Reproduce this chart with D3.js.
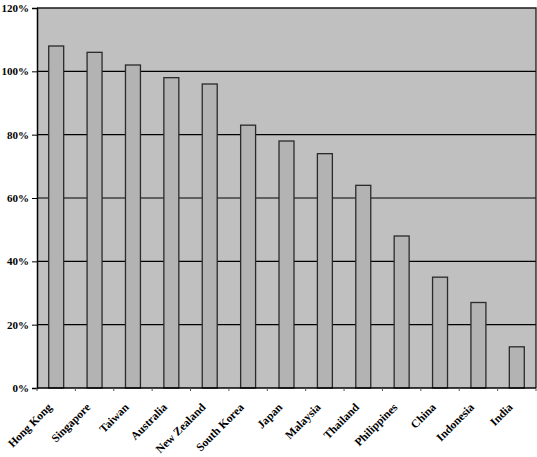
<!DOCTYPE html>
<html>
<head>
<meta charset="utf-8">
<script src="https://cdn.jsdelivr.net/npm/d3@7"></script>
<style>
  body { margin: 0; background: #fff; }
  text { font-family: "Liberation Serif", "Times New Roman", serif; font-weight: bold; font-size: 11px; fill: #000; }
  .xlabel { font-size: 11.5px; }
</style>
</head>
<body>
<svg id="canvas" width="537" height="457"></svg>
<script>
let countries = ['Hong Kong', 'Singapore', 'Taiwan', 'Australia', 'New Zealand', 'South Korea',
  'Japan', 'Malaysia', 'Thailand', 'Philippines', 'China', 'Indonesia', 'India']
let values = [108, 106, 102, 98, 96, 83, 78, 74, 64, 48, 35, 27, 13]
let yTicks = [0, 20, 40, 60, 80, 100, 120]

let canvas = d3.select('#canvas')
let plotLeft = 37, plotRight = 536, plotTop = 8, plotBottom = 388

let xScale = d3.scaleBand()
  .domain(countries)
  .range([plotLeft, plotRight])
  .paddingInner(0.61)
  .paddingOuter(0.305)

let yScale = d3.scaleLinear()
  .domain([0, 120])
  .range([plotBottom, plotTop])

// plot background
canvas.append('rect')
  .attr('x', plotLeft).attr('y', plotTop)
  .attr('width', plotRight - plotLeft).attr('height', plotBottom - plotTop)
  .attr('fill', '#c0c0c0')

// gridlines behind the bars
canvas.selectAll('.grid')
  .data(yTicks.filter(d => d > 0 && d < 120))
  .enter()
  .append('line')
  .attr('class', 'grid')
  .attr('x1', plotLeft).attr('x2', plotRight)
  .attr('y1', d => yScale(d)).attr('y2', d => yScale(d))
  .attr('stroke', '#000').attr('stroke-width', 1.2)

canvas.selectAll('.bar')
  .data(values)
  .enter()
  .append('rect')
  .attr('class', 'bar')
  .attr('x', (d, i) => xScale(countries[i]))
  .attr('y', d => yScale(d))
  .attr('width', xScale.bandwidth())
  .attr('height', d => plotBottom - yScale(d))
  .attr('fill', '#b3b3b3')
  .attr('stroke', '#2a2a2a')
  .attr('stroke-width', 1.3)

// frame: top and right
canvas.append('path')
  .attr('d', `M${plotLeft},${plotTop}H${plotRight}V${plotBottom}`)
  .attr('fill', 'none').attr('stroke', '#1a1a1a').attr('stroke-width', 1.3)

// y axis
let yAxis = d3.axisLeft(yScale)
  .tickValues(yTicks)
  .tickFormat(d => d + '%')
  .tickSize(5)
  .tickPadding(3)
canvas.append('g')
  .attr('transform', `translate(${plotLeft},0)`)
  .call(yAxis)
  .call(g => g.select('.domain').attr('stroke', '#000').attr('stroke-width', 1.5))
  .call(g => g.selectAll('line').attr('stroke', '#000'))
  .call(g => g.selectAll('text').attr('font-family', null).attr('font-size', null))

// x axis: ticks on the category boundaries
let bounds = d3.range(countries.length + 1).map(i => plotLeft + i * xScale.step())
canvas.append('line')
  .attr('x1', plotLeft).attr('x2', plotRight)
  .attr('y1', plotBottom).attr('y2', plotBottom)
  .attr('stroke', '#000').attr('stroke-width', 1.5)
canvas.selectAll('.xtick')
  .data(bounds)
  .enter()
  .append('line')
  .attr('class', 'xtick')
  .attr('x1', d => d).attr('x2', d => d)
  .attr('y1', plotBottom).attr('y2', plotBottom + 3)
  .attr('stroke', '#555')

canvas.selectAll('.xlabel')
  .data(countries)
  .enter()
  .append('text')
  .attr('class', 'xlabel')
  .attr('text-anchor', 'end')
  .attr('transform', d => `translate(${xScale(d) + xScale.bandwidth() / 2 - 3.5},${plotBottom + 20}) rotate(-45)`)
  .text(d => d)
</script>
</body>
</html>
